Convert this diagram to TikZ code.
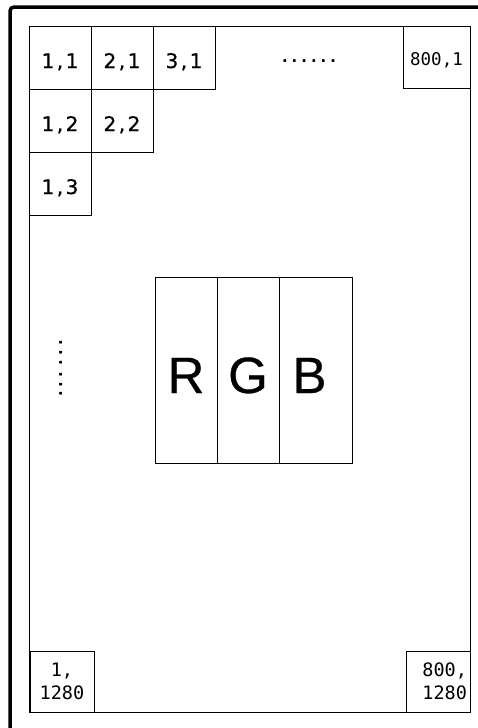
\documentclass[tikz,border=0pt]{standalone}
\usepackage{fontspec}
\setmainfont{Liberation Sans}
\newfontfamily\monofnt{DejaVu Sans Mono}
\newfontfamily\cellfnt[FakeBold=0.8]{DejaVu Sans}
\newfontfamily\bigfnt[FakeBold=0.6]{Liberation Sans}
\newcommand\cellcomma{\hspace{2.5pt},\hspace{2.5pt}}
\begin{document}
\begin{tikzpicture}[x=1pt,y=-1pt,
  thin line/.style={line width=1pt},
  cellbox/.style={draw, thin line, inner sep=0pt, minimum width=62pt, minimum height=63pt,
    text height=21pt, text depth=0pt, font=\cellfnt\fontsize{20}{24}\selectfont},
  monobox/.style={draw, thin line, inner xsep=3pt, inner ysep=0pt, minimum width=64pt, minimum height=61pt,
    font=\monofnt\fontsize{18.5}{23}\selectfont},
  colbox/.style={draw, thin line, inner sep=0pt, minimum height=186pt,
    text height=46pt, text depth=0pt, font=\bigfnt\fontsize{51}{56}\selectfont},
  dotsfont/.style={inner sep=0pt, font=\monofnt\bfseries\fontsize{16}{18}\selectfont}]
\useasboundingbox (0,0) rectangle (478,728);
\fill[white] (0,0) rectangle (478,728);
% outer frame
\coordinate (fbl) at (10,728);
\coordinate (ftl) at (10,7);
\coordinate (ftr) at (478,7);
\draw[line width=3.5pt, rounded corners=4pt] (fbl) -- (ftl) -- (ftr);
% inner panel
\node[draw, thin line, minimum width=441pt, minimum height=686pt, inner sep=0pt] (panel) at (249.5,369) {};
% top-left cells
\node[cellbox] (c11) at (60,57.5) {1\cellcomma1};
\node[cellbox] (c21) at (122,57.5) {2\cellcomma1};
\node[cellbox] (c31) at (184,57.5) {3\cellcomma1};
\node[cellbox] (c12) at (60,120.5) {1\cellcomma2};
\node[cellbox] (c22) at (122,120.5) {2\cellcomma2};
\node[cellbox] (c13) at (60,183.5) {1\cellcomma3};
% top-right cell
\node[draw, thin line, inner sep=0pt, minimum width=67pt, minimum height=62pt,
  text height=16pt, text depth=0pt, font=\monofnt\fontsize{17.5}{21}\selectfont] (c801) at (436.5,57) {800,1};
% dots
\node[dotsfont, anchor=base] (hdots) at (309,62) {......};
\node[dotsfont, anchor=base, rotate=90] (vdots) at (62,368.5) {...\hspace{3pt}...};
% RGB
\node[colbox, minimum width=62pt] (R) at (186,370) {R};
\node[colbox, minimum width=62pt] (G) at (248,370) {G};
\node[colbox, minimum width=73pt] (B) at (315.5,370) {B\hspace*{12pt}};
% bottom cells
\node[monobox, align=center] (b1) at (62,681.5) {1,\\1280};
\node[monobox, text width=58pt, align=right] (b2) at (438,681.5) {800,\\1280};
\end{tikzpicture}
\end{document}
